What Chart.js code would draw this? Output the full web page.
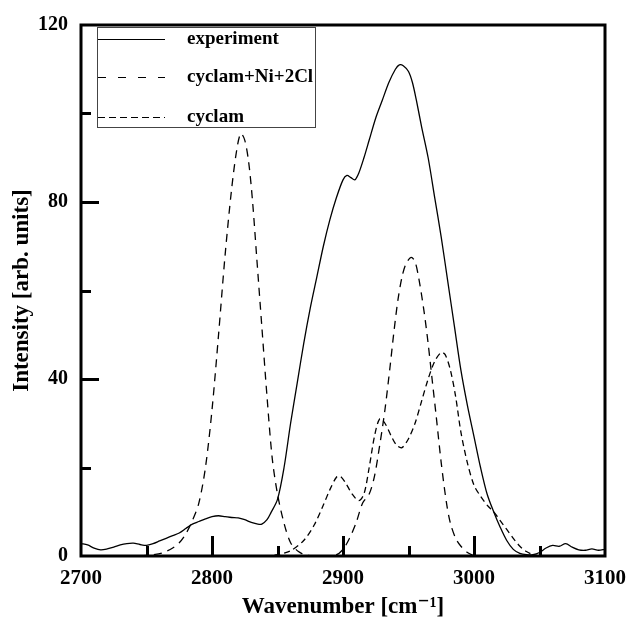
<!DOCTYPE html>
<html><head><meta charset="utf-8">
<script src="https://cdn.jsdelivr.net/npm/chart.js@4/dist/chart.umd.min.js"></script>
<style>html,body{margin:0;padding:0;background:#fff}</style>
</head><body>
<canvas id="c" width="636" height="621"></canvas>
<script>
// ---- data ----
const xTickValues = [2700, 2800, 2900, 3000, 3100];
const yTickValues = [0, 40, 80, 120];
const seriesNames = ["experiment", "cyclam+Ni+2Cl", "cyclam"];

const experimentX = [2700,2705,2710,2715,2720,2725,2730,2735,2740,2745,2750,2755,2760,2765,2770,2775,2780,2785,2790,2795,2800,2805,2810,2815,2820,2825,2830,2835,2838,2842,2845,2850,2855,2860,2865,2870,2875,2880,2885,2890,2895,2900,2903,2906,2909,2912,2916,2920,2925,2930,2935,2940,2943,2946,2950,2953,2956,2960,2965,2970,2975,2980,2985,2990,2995,3000,3005,3010,3015,3020,3025,3030,3035,3040,3045,3050,3055,3060,3065,3070,3075,3080,3085,3090,3095,3100];
const experimentY = [2.8,2.5,1.8,1.4,1.6,2.0,2.5,2.8,2.9,2.6,2.4,2.8,3.4,4.0,4.6,5.2,6.2,7.2,7.8,8.4,8.9,9.1,8.9,8.7,8.6,8.2,7.6,7.2,7.2,8.2,9.8,12.8,20,30,39,48,56,63,70,76,81,85,86,85.5,85,86.5,90,94,99,103,107,110,111,110.8,109.5,107,103,97,90,81,72,62,52,42,34,27,20,14,10,6.5,3.5,1.5,0.6,0.3,0.3,0.8,1.8,2.4,2.2,2.8,2.0,1.4,1.3,1.6,1.3,1.5];

const cyclamNiX = [2745,2755,2762,2770,2775,2780,2785,2790,2795,2800,2805,2810,2815,2819,2822,2825,2828,2831,2834,2838,2842,2846,2850,2855,2860,2866,2872,2880,2895,2900,2905,2910,2915,2920,2924,2928,2932,2936,2939,2942,2945,2948,2952,2955,2958,2962,2965,2968,2971,2975,2979,2982,2986,2990,2995,3000];
const cyclamNiY = [0,0.3,0.7,1.8,3,5,8,12,20,33,50,68,83,92,95.5,94,89,80,68,52,36,22,14,7.4,3,1,0.2,0,0.3,1.5,4,7.5,12,14,18,25,33,43,51,58,63,66,67.5,66.5,62.5,55,48,40,32,21,12,7.4,4,2.2,0.8,0];

const cyclamX = [2840,2850,2860,2870,2878,2885,2890,2895,2898,2902,2907,2912,2916,2920,2924,2928,2932,2937,2941,2945,2950,2955,2960,2965,2970,2975,2978,2982,2986,2990,2995,3000,3005,3010,3015,3020,3025,3030,3035,3040,3045,3050];
const cyclamY = [0,0.3,1.2,3.5,7,11.5,15,17.8,18,16.5,14,12.5,14,20,27,31,30,27,25,24.5,26.5,30,35,40,44,46,45.5,42,36,28,21,16,13.5,11.5,10,8,6,4,2.2,1,0.3,0];

const pts = (xs, ys) => xs.map((x, i) => ({x: x, y: ys[i]}));

const SERIF = '"Liberation Serif","DejaVu Serif",serif';

const framePlugin = {
  id: 'frame',
  afterDatasetsDraw(chart) {
    const {ctx, chartArea: a, scales} = chart;
    const xs = scales.x, ys = scales.y;
    ctx.save();
    ctx.strokeStyle = '#000';
    ctx.lineWidth = 3;
    ctx.lineCap = 'butt';
    ctx.strokeRect(a.left, a.top, a.right - a.left, a.bottom - a.top);
    for (let v = 2750; v < 3100; v += 50) {
      const px = Math.round(xs.getPixelForValue(v)) + 0.5;
      const len = (v % 100 === 0) ? 20 : 10;
      ctx.beginPath(); ctx.moveTo(px, a.bottom); ctx.lineTo(px, a.bottom - len); ctx.stroke();
    }
    for (let v = 20; v < 120; v += 20) {
      const py = Math.round(ys.getPixelForValue(v)) + 0.5;
      const len = (v % 40 === 0) ? 18 : 10;
      ctx.beginPath(); ctx.moveTo(a.left, py); ctx.lineTo(a.left + len, py); ctx.stroke();
    }
    const lx = 97.5, ly = 27.5, lw = 218, lh = 100;
    ctx.lineWidth = 1;
    ctx.strokeStyle = '#444';
    ctx.fillStyle = '#fff';
    ctx.fillRect(lx, ly, lw, lh);
    ctx.strokeRect(lx, ly, lw, lh);
    const rows = [39, 77, 117];
    chart.data.datasets.forEach((ds, i) => {
      const y = rows[i] + 0.5;
      ctx.strokeStyle = '#000';
      ctx.lineWidth = 1.2;
      ctx.setLineDash(ds.legendDash || []);
      ctx.beginPath(); ctx.moveTo(98, y); ctx.lineTo(165, y); ctx.stroke();
      ctx.setLineDash([]);
      ctx.fillStyle = '#000';
      ctx.font = 'bold 19px ' + SERIF;
      ctx.textBaseline = 'middle';
      ctx.textAlign = 'left';
      ctx.fillText(ds.label, 187, rows[i]);
    });
    ctx.restore();
  }
};

new Chart(document.getElementById('c'), {
  type: 'line',
  data: {
    datasets: [
      {label: seriesNames[0], data: pts(experimentX, experimentY), borderColor: '#000', borderWidth: 1.3, pointRadius: 0, tension: 0.3, fill: false, legendDash: []},
      {label: seriesNames[1], data: pts(cyclamNiX, cyclamNiY), borderColor: '#000', borderWidth: 1.3, borderDash: [8, 6], pointRadius: 0, tension: 0.3, fill: false, legendDash: [8, 12]},
      {label: seriesNames[2], data: pts(cyclamX, cyclamY), borderColor: '#000', borderWidth: 1.3, borderDash: [6, 4], pointRadius: 0, tension: 0.3, fill: false, legendDash: [7, 4]}
    ]
  },
  options: {
    responsive: false,
    animation: false,
    layout: {padding: {left: 8, top: 20, right: 23, bottom: 0}},
    plugins: {legend: {display: false}, tooltip: {enabled: false}},
    scales: {
      x: {
        type: 'linear', min: 2700, max: 3100,
        afterBuildTicks: (s) => { s.ticks = xTickValues.map(v => ({value: v})); },
        afterFit: (s) => { s.height = 65; },
        grid: {display: false, drawTicks: false},
        border: {display: false},
        ticks: {color: '#000', padding: 10, font: {family: SERIF, size: 21, weight: 'bold'}, maxRotation: 0, callback: (v) => String(v)},
        title: {display: true, text: 'Wavenumber [cm\u207B\u00B9]', color: '#000', font: {family: SERIF, size: 23, weight: 'bold'}, padding: 0}
      },
      y: {
        type: 'linear', min: 0, max: 120,
        afterBuildTicks: (s) => { s.ticks = yTickValues.map(v => ({value: v})); },
        afterFit: (s) => { s.width = 73; },
        grid: {display: false, drawTicks: false},
        border: {display: false},
        ticks: {color: '#000', padding: 13, font: {family: SERIF, size: 20, weight: 'bold'}, callback: (v) => String(v)},
        title: {display: true, text: 'Intensity [arb. units]', color: '#000', font: {family: SERIF, size: 23, weight: 'bold'}, padding: 0}
      }
    }
  },
  plugins: [framePlugin]
});
</script>
</body></html>
